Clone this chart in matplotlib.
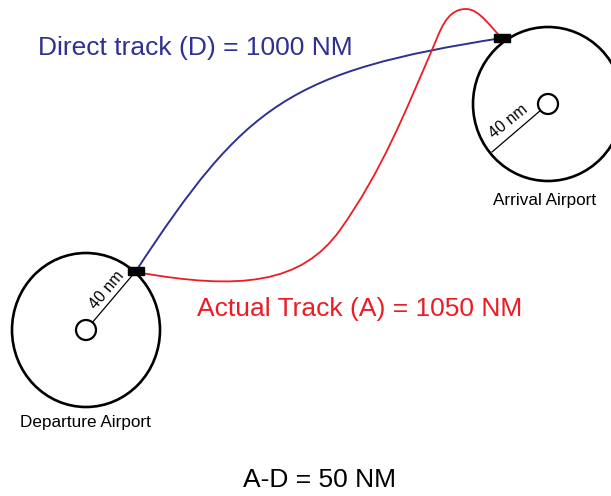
import numpy as np
import matplotlib
matplotlib.use("Agg")
import matplotlib.pyplot as plt
from matplotlib.path import Path
from matplotlib.patches import PathPatch, Ellipse, Rectangle

plt.rcParams['font.family'] = ['Liberation Sans', 'DejaVu Sans']

# ---- data (pixel-space diagram) ----
airport_names = ["Departure Airport", "Arrival Airport"]
airport_x = [86, 548]
airport_y = [330, 104]
zone_rx = [74, 75]
zone_ry = [77, 77]
radius_end_x = [136, 492]
radius_end_y = [271, 152]
radius_label = ["40 nm", "40 nm"]
radius_label_x = [107, 508]
radius_label_y = [290, 122]
radius_label_rot = [50, 39]
fix_x = [136, 502]
fix_y = [271, 38]

# track key points, heading at each key point (deg, screen coords) and handle lengths
direct_x = [136, 502]
direct_y = [271, 38]
direct_heading = [-56.8, -8.9]
direct_out_handle = [200]
direct_in_handle = [215]

actual_x = [136, 340, 432, 466, 502]
actual_y = [272, 230, 50, 9, 38]
actual_heading = [10.2, -54.5, -66.5, 0.0, 41.3]
actual_out_handle = [106, 72, 20, 14]
actual_in_handle = [66, 67, 20, 14]

direct_label = "Direct track (D) = 1000 NM"
actual_label = "Actual Track (A) = 1050 NM"
diff_label = "A-D = 50 NM"

BLUE = "#2e3192"
RED = "#ed1c24"

W, H = 611, 496
fig = plt.figure(figsize=(W / 100, H / 100), dpi=100)
ax = fig.add_axes([0, 0, 1, 1])
ax.set_xlim(0, W)
ax.set_ylim(H, 0)
ax.axis("off")


def hermite_path(xs, ys, heading, h_out, h_in):
    pts = np.column_stack([xs, ys]).astype(float)
    ang = np.radians(heading)
    u = np.column_stack([np.cos(ang), np.sin(ang)])
    verts = [pts[0]]
    codes = [Path.MOVETO]
    for k in range(len(pts) - 1):
        verts += [pts[k] + u[k] * h_out[k], pts[k + 1] - u[k + 1] * h_in[k], pts[k + 1]]
        codes += [Path.CURVE4] * 3
    return Path(verts, codes)


# airports
for i in range(2):
    ax.add_patch(Ellipse((airport_x[i], airport_y[i]), 2 * zone_rx[i], 2 * zone_ry[i],
                         fill=False, ec="black", lw=1.9, zorder=2))
    ax.add_patch(Ellipse((airport_x[i], airport_y[i]), 20, 20,
                         fill=False, ec="black", lw=1.6, zorder=2))
    dx = radius_end_x[i] - airport_x[i]
    dy = radius_end_y[i] - airport_y[i]
    L = np.hypot(dx, dy)
    ax.plot([airport_x[i] + dx / L * 10, radius_end_x[i]],
            [airport_y[i] + dy / L * 10, radius_end_y[i]],
            color="black", lw=0.9, zorder=2)
    ax.text(radius_label_x[i], radius_label_y[i], radius_label[i],
            rotation=radius_label_rot[i], ha="center", va="center",
            fontsize=11.5, color="black", rotation_mode="anchor", zorder=3)

# tracks
ax.add_patch(PathPatch(hermite_path(direct_x, direct_y, direct_heading,
                                    direct_out_handle, direct_in_handle),
                       fill=False, ec=BLUE, lw=1.4, zorder=3))
ax.add_patch(PathPatch(hermite_path(actual_x, actual_y, actual_heading,
                                    actual_out_handle, actual_in_handle),
                       fill=False, ec=RED, lw=1.3, zorder=3))

# fixes
for i in range(2):
    ax.add_patch(Rectangle((fix_x[i] - 8, fix_y[i] - 4), 16, 8, fc="black", ec="black", zorder=4))

# labels
ax.text(38, 48, direct_label, color=BLUE, fontsize=19, ha="left", va="center")
ax.text(197, 309, actual_label, color=RED, fontsize=19, ha="left", va="center")
ax.text(243, 480, diff_label, color="black", fontsize=19, ha="left", va="center")
ax.text(85, 423, airport_names[0], color="black", fontsize=12.3, ha="center", va="center")
ax.text(545, 200, airport_names[1], color="black", fontsize=12.3, ha="center", va="center")

fig.savefig("out.png", dpi=100)
